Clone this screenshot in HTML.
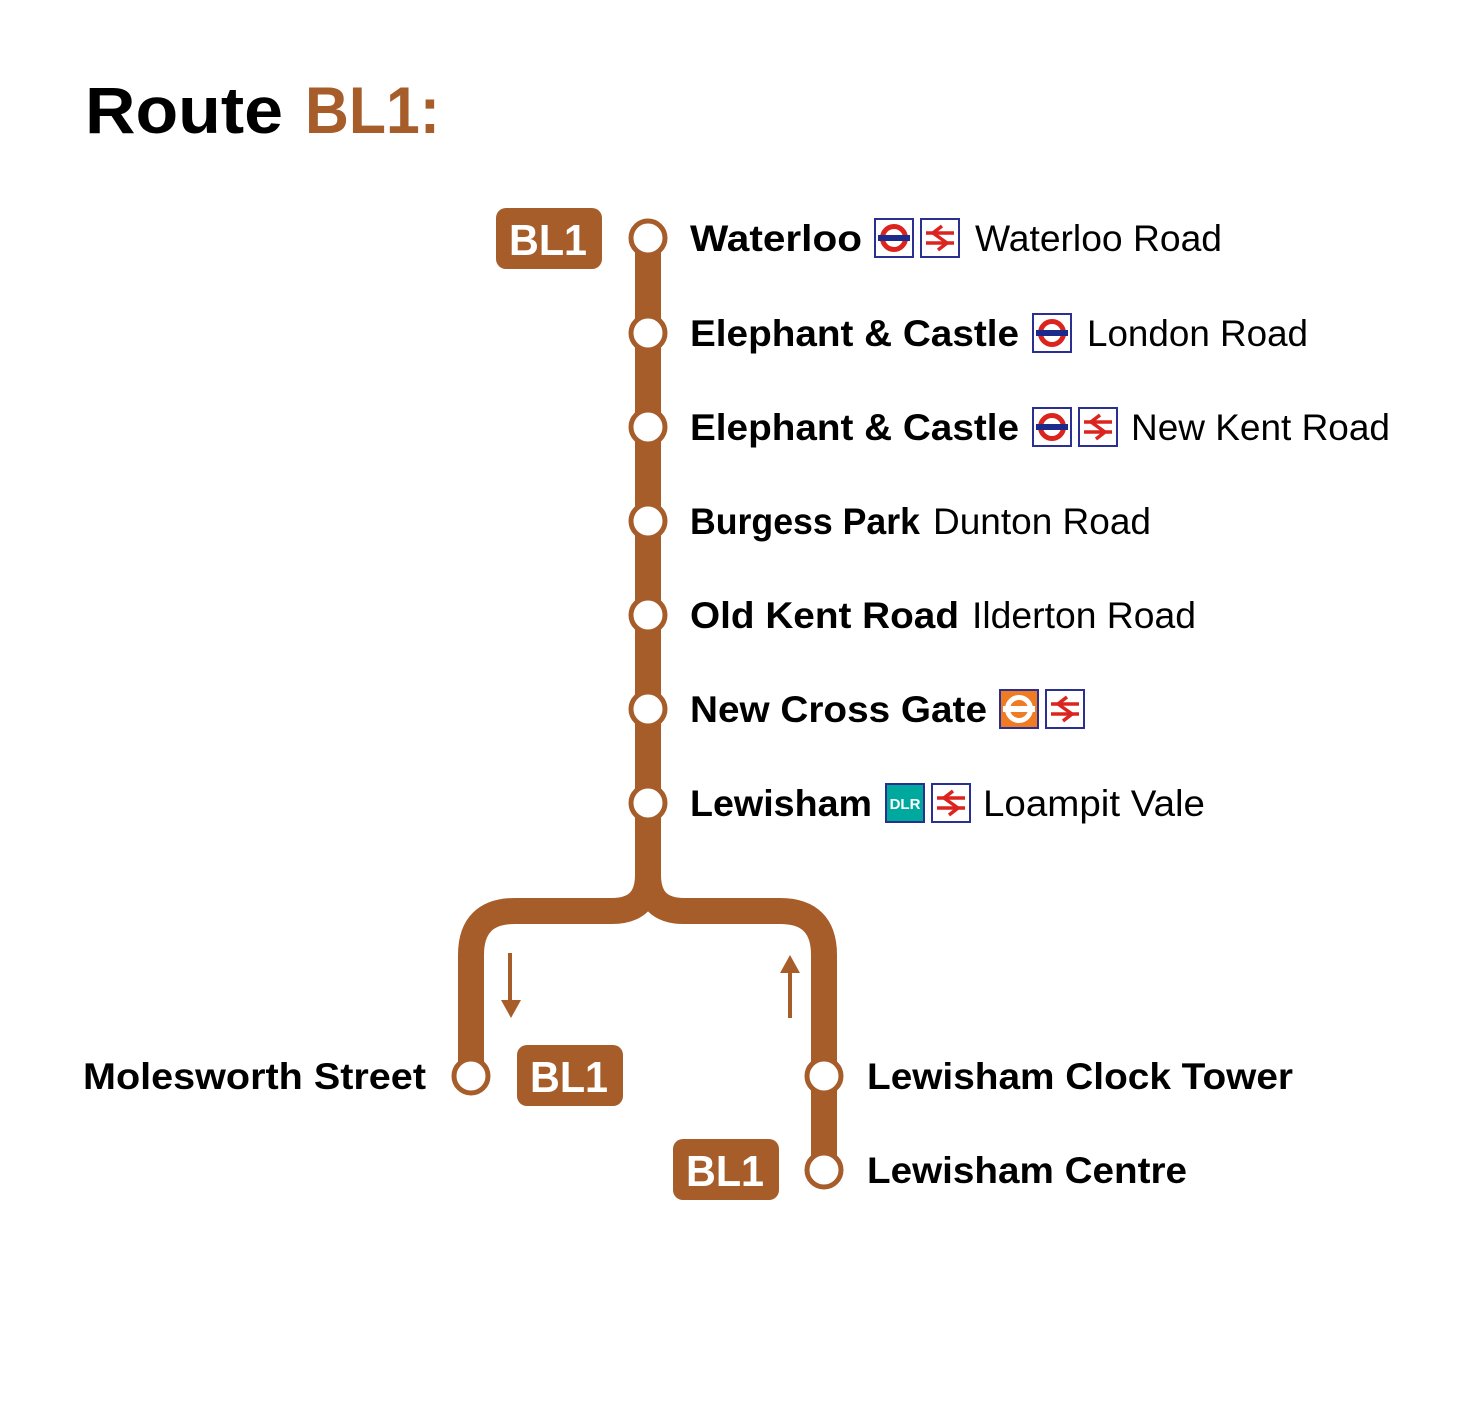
<!DOCTYPE html>
<html><head><meta charset="utf-8"><style>html,body{margin:0;padding:0;background:#fff}svg{display:block}</style></head>
<body>
<svg width="1477" height="1419" viewBox="0 0 1477 1419" xmlns="http://www.w3.org/2000/svg" font-family="Liberation Sans, sans-serif">
<defs>
<g id="ul"><rect x="1" y="1" width="38" height="38" fill="#fff" stroke="#2b2f8f" stroke-width="2"/><circle cx="20" cy="20" r="11.5" fill="none" stroke="#dc241f" stroke-width="5"/><rect x="4" y="17" width="32" height="6" fill="#1c2a8c"/></g>
<g id="nr"><rect x="1" y="1" width="38" height="38" fill="#fff" stroke="#2b2f8f" stroke-width="2"/><g fill="none" stroke="#dc241f" stroke-width="3.5"><path d="M6 15H34M6 25H34"/><path d="M22 8L13 15L27 25L18 32"/></g></g>
<g id="og"><rect x="1" y="1" width="38" height="38" fill="#ef7b22" stroke="#2b2f8f" stroke-width="2"/><circle cx="20" cy="20" r="11.5" fill="none" stroke="#fff" stroke-width="5"/><rect x="4" y="17" width="32" height="6" fill="#fff"/></g>
</defs>
<text x="85" y="133" font-size="66" font-weight="bold" textLength="198" lengthAdjust="spacingAndGlyphs">Route</text>
<text x="305" y="133" font-size="66" font-weight="bold" fill="#a65d2a" textLength="135" lengthAdjust="spacingAndGlyphs">BL1:</text>
<g fill="none" stroke="#a65d2a" stroke-width="26">
<path d="M648 238V875Q648 911 612 911H515Q471 911 471 955V1076"/>
<path d="M648 875Q648 911 684 911H780Q824 911 824 955V1170"/>
</g>
<g fill="#a65d2a"><rect x="508" y="953" width="4" height="50"/><path d="M501 1000h20l-10 18z"/><rect x="788" y="970" width="4" height="48"/><path d="M780 973h20l-10 -18z"/></g>
<g fill="#fff" stroke="#a65d2a" stroke-width="5">
<circle cx="648" cy="238" r="17"/><circle cx="648" cy="333" r="17"/><circle cx="648" cy="427" r="17"/><circle cx="648" cy="521" r="17"/><circle cx="648" cy="615" r="17"/><circle cx="648" cy="709" r="17"/><circle cx="648" cy="803" r="17"/><circle cx="471" cy="1076" r="17"/><circle cx="824" cy="1076" r="17"/><circle cx="824" cy="1170" r="17"/>
</g>
<g fill="#a65d2a"><rect x="496" y="208" width="106" height="61" rx="10"/><rect x="517" y="1045" width="106" height="61" rx="10"/><rect x="673" y="1139" width="106" height="61" rx="10"/></g>
<g fill="#fff" font-size="44" font-weight="bold">
<text x="509" y="255" textLength="78" lengthAdjust="spacingAndGlyphs">BL1</text>
<text x="530" y="1092" textLength="78" lengthAdjust="spacingAndGlyphs">BL1</text>
<text x="686" y="1186" textLength="78" lengthAdjust="spacingAndGlyphs">BL1</text>
</g>
<g font-size="37" fill="#000">
<g font-weight="bold">
<text x="690" y="251" textLength="172" lengthAdjust="spacingAndGlyphs">Waterloo</text>
<text x="690" y="346" textLength="329" lengthAdjust="spacingAndGlyphs">Elephant &amp; Castle</text>
<text x="690" y="440" textLength="329" lengthAdjust="spacingAndGlyphs">Elephant &amp; Castle</text>
<text x="690" y="534" textLength="230" lengthAdjust="spacingAndGlyphs">Burgess Park</text>
<text x="690" y="628" textLength="269" lengthAdjust="spacingAndGlyphs">Old Kent Road</text>
<text x="690" y="722" textLength="297" lengthAdjust="spacingAndGlyphs">New Cross Gate</text>
<text x="690" y="816" textLength="182" lengthAdjust="spacingAndGlyphs">Lewisham</text>
<text x="83" y="1089" textLength="343" lengthAdjust="spacingAndGlyphs">Molesworth Street</text>
<text x="867" y="1089" textLength="426" lengthAdjust="spacingAndGlyphs">Lewisham Clock Tower</text>
<text x="867" y="1183" textLength="320" lengthAdjust="spacingAndGlyphs">Lewisham Centre</text>
</g>
<text x="975" y="251" textLength="247" lengthAdjust="spacingAndGlyphs">Waterloo Road</text>
<text x="1087" y="346" textLength="221" lengthAdjust="spacingAndGlyphs">London Road</text>
<text x="1131" y="440" textLength="259" lengthAdjust="spacingAndGlyphs">New Kent Road</text>
<text x="933" y="534" textLength="218" lengthAdjust="spacingAndGlyphs">Dunton Road</text>
<text x="972" y="628" textLength="224" lengthAdjust="spacingAndGlyphs">Ilderton Road</text>
<text x="983" y="816" textLength="222" lengthAdjust="spacingAndGlyphs">Loampit Vale</text>
</g>
<use href="#ul" x="874" y="218"/><use href="#nr" x="920" y="218"/>
<use href="#ul" x="1032" y="313"/>
<use href="#ul" x="1032" y="407"/><use href="#nr" x="1078" y="407"/>
<use href="#og" x="999" y="689"/><use href="#nr" x="1045" y="689"/>
<rect x="886" y="784" width="38" height="38" fill="#00a99d" stroke="#2b2f8f" stroke-width="2"/>
<text x="905" y="809" font-size="15" font-weight="bold" fill="#fff" text-anchor="middle">DLR</text>
<use href="#nr" x="931" y="783"/>
</svg>
</body></html>
